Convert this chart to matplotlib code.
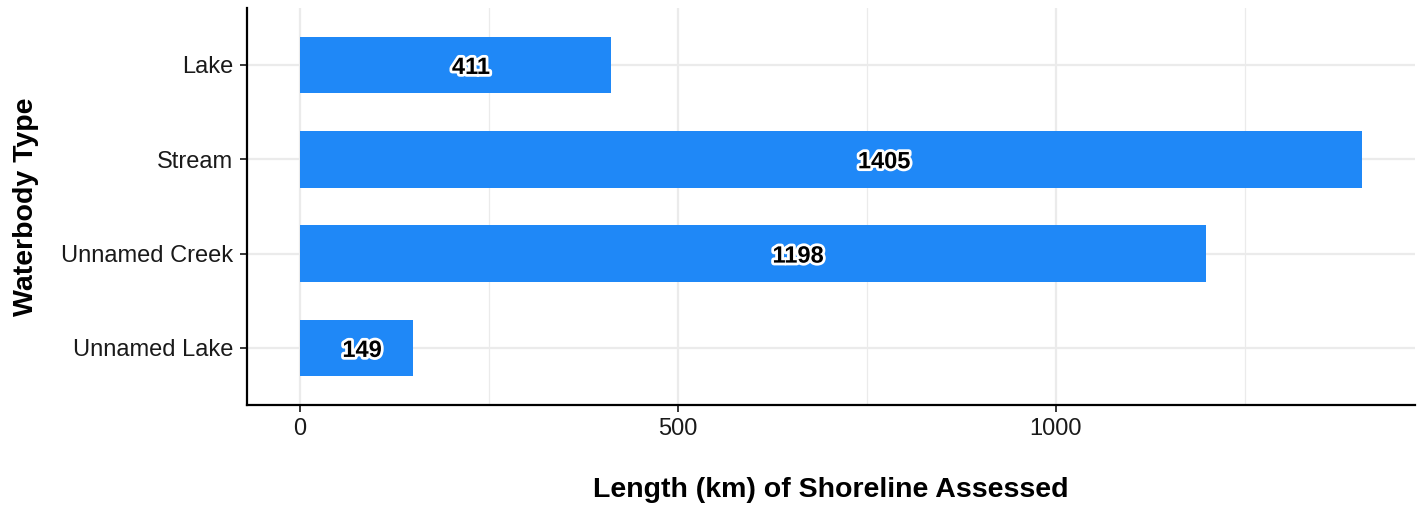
import numpy as np
import matplotlib.pyplot as plt
import matplotlib.patheffects as pe
from matplotlib.ticker import MultipleLocator

plt.rcParams['font.family'] = ['Liberation Sans', 'DejaVu Sans']

categories = ["Lake", "Stream", "Unnamed Creek", "Unnamed Lake"]
lengths = [411, 1405, 1198, 149]

fig = plt.figure(figsize=(14.24, 5.08), dpi=100)
ax = fig.add_axes([0.1735, 0.2037, 0.8202, 0.7798])

ypos = np.arange(len(categories))[::-1] + 1
ax.barh(ypos, lengths, height=0.6, color="#1F88F7", zorder=3)

# labels sit a bit right of the bar middle
for y, v in zip(ypos, lengths):
    ax.text(v * 0.55, y, str(v), ha="center", va="center_baseline", fontsize=17,
            fontweight="bold", color="black", zorder=4,
            path_effects=[pe.withStroke(linewidth=4, foreground="white")])

vmax = max(lengths)
ax.set_xlim(-0.05 * vmax, 1.05 * vmax)
ax.set_ylim(0.4, len(categories) + 0.6)
ax.set_yticks(ypos)
ax.set_yticklabels(categories)
ax.set_xticks([0, 500, 1000])
ax.xaxis.set_minor_locator(MultipleLocator(250))

ax.grid(True, which="major", color="#EBEBEB", linewidth=1.6, zorder=0)
ax.grid(True, which="minor", axis="x", color="#EBEBEB", linewidth=0.9, zorder=0)
ax.tick_params(axis="both", which="major", length=5, width=1.1, color="black",
               labelsize=17, labelcolor="#1a1a1a", pad=5)
ax.tick_params(axis="x", which="minor", length=0)

for s in ["top", "right"]:
    ax.spines[s].set_visible(False)
for s in ["left", "bottom"]:
    ax.spines[s].set_linewidth(1.6)
    ax.spines[s].set_color("black")

ax.set_xlabel("Length (km) of Shoreline Assessed", fontsize=20.5, fontweight="bold", labelpad=26)
ax.set_ylabel("Waterbody Type", fontsize=20.5, fontweight="bold", labelpad=16)

fig.savefig("out.png", dpi=100)
